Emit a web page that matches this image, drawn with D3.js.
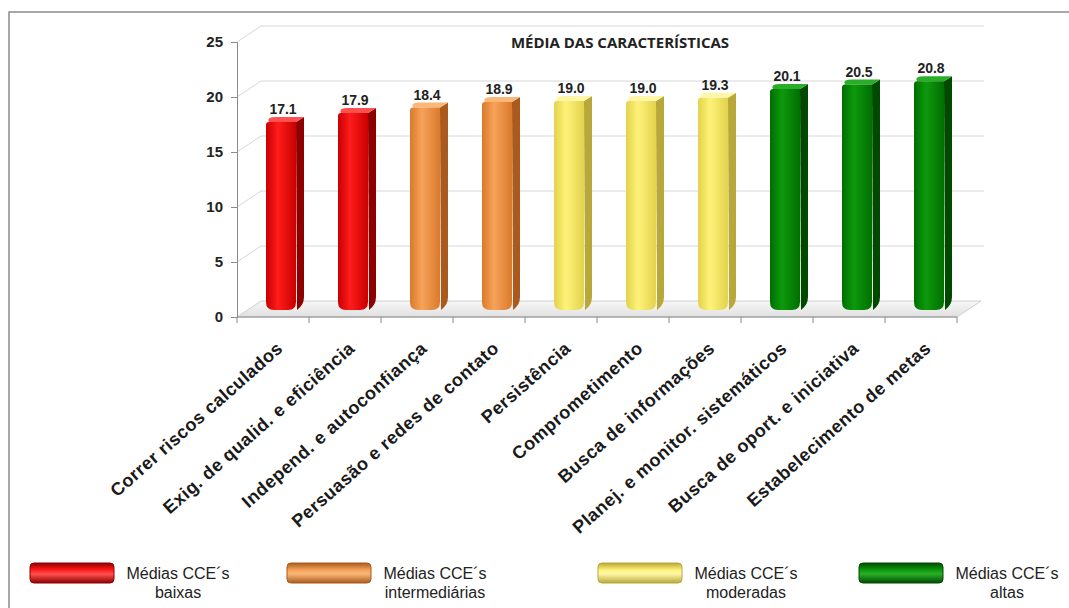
<!DOCTYPE html>
<html>
<head>
<meta charset="utf-8">
<script src="https://cdn.jsdelivr.net/npm/d3@7"></script>
<style>
  body { margin: 0; background: #fff; }
  svg { display: block; }
</style>
</head>
<body>
<svg width="1069" height="608"></svg>
<script>
    // chart data
    var categories = ["Correr riscos calculados", "Exig. de qualid. e eficiência", "Independ. e autoconfiança",
        "Persuasão e redes de contato", "Persistência", "Comprometimento", "Busca de informações",
        "Planej. e monitor. sistemáticos", "Busca de oport. e iniciativa", "Estabelecimento de metas"];
    var values = [17.1, 17.9, 18.4, 18.9, 19.0, 19.0, 19.3, 20.1, 20.5, 20.8];
    var groups = [0, 0, 1, 1, 2, 2, 2, 3, 3, 3];
    var yTicks = [0, 5, 10, 15, 20, 25];
    var legendLines = [["Médias CCE´s", "baixas"], ["Médias CCE´s", "intermediárias"],
        ["Médias CCE´s", "moderadas"], ["Médias CCE´s", "altas"]];
    var title = "MÉDIA DAS CARACTERÍSTICAS";

    // colours per group: [edge, center, side, top]
    var palette = [
        ["#c80000", "#ff1c1c", "#8e0000", "#ff5050"],
        ["#d97a2c", "#f6a25a", "#a95a1c", "#f9b878"],
        ["#e2d24c", "#fff27a", "#b8a83a", "#fff7a8"],
        ["#006e00", "#0d9a0d", "#004a00", "#2aae2a"]
    ];

    var svg = d3.select("svg"),
        width = +svg.attr("width"),
        height = +svg.attr("height");

    var x0 = 237, x1 = 957, depthX = 24, depthY = -16;

    var x = d3.scaleBand().domain(categories).range([x0, x1]).padding(0);
    var y = d3.scaleLinear().domain([0, 25]).range([317, 42]);

    var defs = svg.append("defs");

    palette.forEach(function (p, i) {
        var g = defs.append("linearGradient").attr("id", "front" + i)
            .attr("x1", 0).attr("x2", 1).attr("y1", 0).attr("y2", 0);
        g.append("stop").attr("offset", "0%").attr("stop-color", p[0]);
        g.append("stop").attr("offset", "40%").attr("stop-color", p[1]);
        g.append("stop").attr("offset", "100%").attr("stop-color", p[0]);

        var lg = defs.append("linearGradient").attr("id", "leg" + i)
            .attr("x1", 0).attr("x2", 0).attr("y1", 0).attr("y2", 1);
        lg.append("stop").attr("offset", "0%").attr("stop-color", p[2]);
        lg.append("stop").attr("offset", "35%").attr("stop-color", p[1]);
        lg.append("stop").attr("offset", "55%").attr("stop-color", p[3]);
        lg.append("stop").attr("offset", "100%").attr("stop-color", p[2]);
    });

    var floorGrad = defs.append("linearGradient").attr("id", "floor")
        .attr("x1", 0).attr("x2", 0).attr("y1", 0).attr("y2", 1);
    floorGrad.append("stop").attr("offset", "0%").attr("stop-color", "#f7f7f7");
    floorGrad.append("stop").attr("offset", "100%").attr("stop-color", "#e0e0e0");

    // outer frame
    svg.append("rect")
        .attr("x", 9).attr("y", 12)
        .attr("width", width + 20).attr("height", height + 20)
        .attr("fill", "none").attr("stroke", "#8a8a8a").attr("stroke-width", 1.5);

    // floor
    svg.append("path")
        .attr("d", "M" + x0 + "," + y(0) + "L" + x1 + "," + y(0) +
            "L" + (x1 + depthX) + "," + (y(0) + depthY) + "L" + (x0 + depthX) + "," + (y(0) + depthY) + "Z")
        .attr("fill", "url(#floor)").attr("stroke", "#d0d0d0");

    // grid: side wall diagonals and back wall lines
    var grid = svg.append("g").attr("stroke", "#d6d6d6").attr("stroke-width", 1);
    grid.selectAll("line.diag").data(yTicks.slice(1)).enter().append("line")
        .attr("x1", x0).attr("y1", function (d) { return y(d); })
        .attr("x2", x0 + depthX).attr("y2", function (d) { return y(d) + depthY; });
    grid.selectAll("line.back").data(yTicks.slice(1)).enter().append("line")
        .attr("x1", x0 + depthX).attr("y1", function (d) { return y(d) + depthY; })
        .attr("x2", x1 + depthX + 3).attr("y2", function (d) { return y(d) + depthY; });

    // axes
    var yAxis = svg.append("g")
        .attr("transform", "translate(" + x0 + ",0)")
        .call(d3.axisLeft(y).tickValues(yTicks).tickSize(6).tickPadding(8));
    yAxis.select(".domain").attr("stroke", "#8a8a8a");
    yAxis.selectAll(".tick line").attr("stroke", "#8a8a8a");
    yAxis.selectAll("text")
        .attr("font-family", "Liberation Sans, Arial, sans-serif")
        .attr("font-weight", "bold").attr("font-size", 15).attr("fill", "#222");

    var xAxisG = svg.append("g").attr("class", "x-axis");
    xAxisG.append("line")
        .attr("x1", x0).attr("x2", x1).attr("y1", y(0)).attr("y2", y(0))
        .attr("stroke", "#8a8a8a");
    xAxisG.selectAll("line.tick").data(d3.range(categories.length + 1)).enter().append("line")
        .attr("x1", function (i) { return x0 + i * x.bandwidth(); })
        .attr("x2", function (i) { return x0 + i * x.bandwidth(); })
        .attr("y1", y(0)).attr("y2", y(0) + 6)
        .attr("stroke", "#8a8a8a");

    xAxisG.selectAll("text").data(categories).enter().append("text")
        .attr("transform", function (d) {
            return "translate(" + (x(d) + x.bandwidth() / 2 + 11) + "," + (y(0) + 33) + ") rotate(-41.5)";
        })
        .attr("text-anchor", "end")
        .attr("font-family", "Liberation Sans, Arial, sans-serif")
        .attr("font-weight", "bold").attr("font-size", 18).attr("letter-spacing", 0.5)
        .attr("fill", "#1a1a1a")
        .text(function (d) { return d; });

    // 3D bars
    var barW = 30, sideX = 8, sideY = -5, r = 8, lift = -7;
    var bars = svg.append("g").selectAll("g").data(values).enter().append("g");

    function fx(i) { return x(categories[i]) + x.bandwidth() / 2 + 8 - barW / 2; }

    bars.append("path") // side
        .attr("d", function (d, i) {
            var l = fx(i) + barW, top = y(d) + lift, bot = y(0) + lift;
            return "M" + l + "," + top + "L" + (l + sideX) + "," + (top + sideY) +
                "L" + (l + sideX) + "," + (bot + sideY - r) +
                "Q" + (l + sideX) + "," + (bot + sideY) + " " + (l + 1) + "," + bot + "Z";
        })
        .attr("fill", function (d, i) { return palette[groups[i]][2]; });

    bars.append("path") // top
        .attr("d", function (d, i) {
            var l = fx(i), top = y(d) + lift;
            return "M" + (l + 3) + "," + top + "L" + (l + barW) + "," + top +
                "L" + (l + barW + sideX) + "," + (top + sideY) + "L" + (l + sideX + 2) + "," + (top + sideY) +
                "Q" + l + "," + (top + sideY) + " " + (l + 3) + "," + top + "Z";
        })
        .attr("fill", function (d, i) { return palette[groups[i]][3]; });

    bars.append("path") // front
        .attr("d", function (d, i) {
            var l = fx(i), top = y(d) + lift, bot = y(0) + lift;
            return "M" + (l + 3) + "," + top + "L" + (l + barW) + "," + top +
                "L" + (l + barW) + "," + (bot - r) +
                "Q" + (l + barW) + "," + bot + " " + (l + barW - r) + "," + bot +
                "L" + (l + r) + "," + bot +
                "Q" + l + "," + bot + " " + l + "," + (bot - r) +
                "L" + l + "," + (top + 3) + "Q" + l + "," + top + " " + (l + 3) + "," + top + "Z";
        })
        .attr("fill", function (d, i) { return "url(#front" + groups[i] + ")"; });

    bars.append("text")
        .attr("x", function (d, i) { return fx(i) + barW / 2 + 2; })
        .attr("y", function (d) { return y(d) + lift - 8; })
        .attr("text-anchor", "middle")
        .attr("font-family", "Liberation Sans, Arial, sans-serif")
        .attr("font-weight", "bold").attr("font-size", 14).attr("fill", "#222")
        .text(function (d) { return d.toFixed(1); });

    // title
    svg.append("text")
        .attr("x", 620).attr("y", 48)
        .attr("text-anchor", "middle")
        .attr("font-family", "Open Sans, sans-serif")
        .attr("font-weight", "bold").attr("font-size", 15).attr("fill", "#222")
        .text(title);

    // legend
    var legendX = [30, 287, 598, 859];
    var legend = svg.append("g").selectAll("g").data(legendLines).enter().append("g")
        .attr("transform", function (d, i) { return "translate(" + legendX[i] + ",563)"; });
    legend.append("rect")
        .attr("width", 84).attr("height", 20).attr("rx", 4)
        .attr("fill", function (d, i) { return "url(#leg" + i + ")"; })
        .attr("stroke", function (d, i) { return palette[i][2]; }).attr("stroke-width", 1);
    legend.append("text")
        .attr("x", 148).attr("y", 16)
        .attr("text-anchor", "middle")
        .attr("font-family", "Liberation Sans, Arial, sans-serif")
        .attr("font-size", 16).attr("fill", "#222")
        .selectAll("tspan").data(function (d) { return d; }).enter().append("tspan")
        .attr("x", 148).attr("dy", function (d, j) { return j ? 19 : 0; })
        .text(function (d) { return d; });
</script>
</body>
</html>
